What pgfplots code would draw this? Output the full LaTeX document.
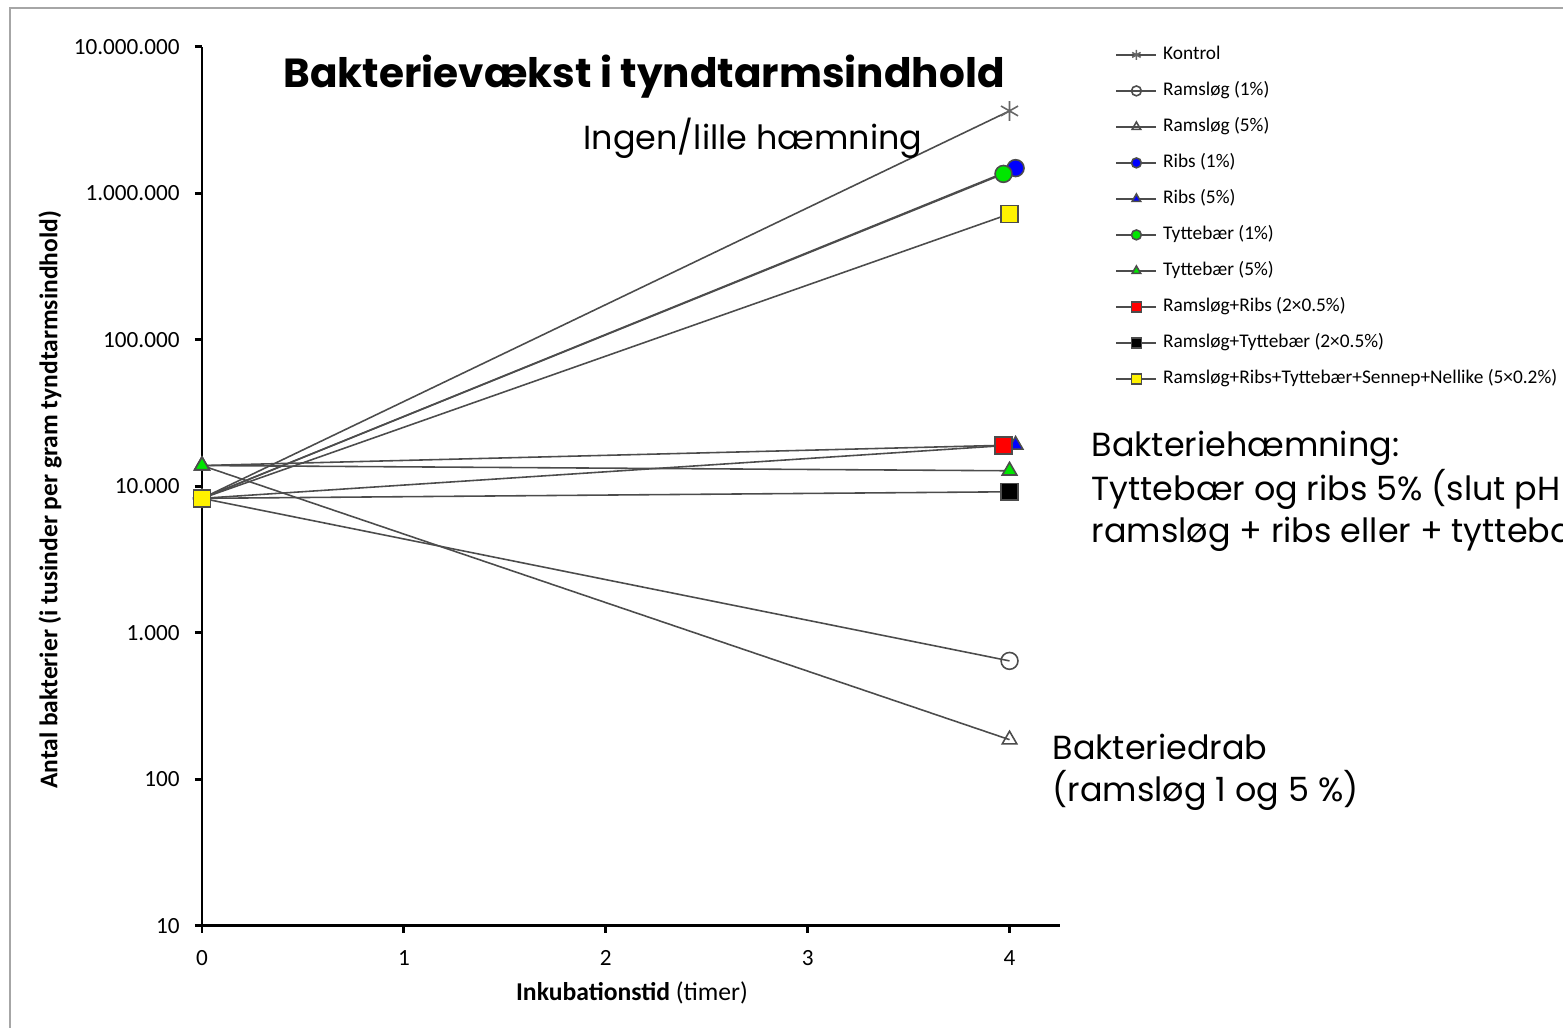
\documentclass[border=0pt]{standalone}
\usepackage{fontspec}
\setmainfont{Carlito}
\newfontfamily\gothic{Poppins}
\usepackage{pgfplots}
\pgfplotsset{compat=1.18}
\definecolor{tgreen}{RGB}{0,230,0}
\definecolor{lcol}{gray}{0.3}
\begin{document}
\begin{tikzpicture}
\begin{axis}[
  at={(0,0)}, anchor=south west,
  scale only axis, width=85.8mm, height=87.9mm,
  xmin=0, xmax=4.25, ymode=log, ymin=10, ymax=1e7,
  axis lines=left, axis line style={-, line width=0.85pt, black},
  xtick={0,1,2,3,4}, ytick={10,100,1000,10000,100000,1000000,10000000},
  yminorticks=false,
  tick align=outside, major tick length=0.7mm,
  tick style={line width=0.85pt, black},
  log ticks with fixed point,
  /pgf/number format/1000 sep={.},
  /pgf/number format/assume math mode=true,
  ticklabel style={font=\fontsize{6.6}{7}\selectfont},
  yticklabel style={xshift=-0.3mm},
  xticklabel style={yshift=-0.5mm},
  clip=false,
  every axis plot/.append style={line width=0.45pt, lcol, mark size=2.4pt, mark options={solid, draw=black!80, line width=0.35pt}},
  legend image code/.code={\draw[mark repeat=2,mark phase=2,#1] plot coordinates {(0mm,0mm) (2mm,0mm) (4mm,0mm)};},
  legend image post style={mark size=1.4pt},
  legend cell align=left,
  legend style={at={(1.064,1.010)}, anchor=north west, draw=none, fill=none, inner sep=0pt,
    font=\fontsize{5.5}{6}\selectfont, row sep=0.4mm,
    nodes={inner sep=0.6mm, text height=1.5mm, text depth=0.5mm}},
]
\addplot[mark=asterisk, mark size=2.8pt, mark options={draw=black!60}] coordinates {(0,8300) (4,3660000)};
\addlegendentry{Kontrol}
\addplot[mark=o, mark options={fill=white}] coordinates {(0,8300) (4,645)};
\addlegendentry{Ramsløg (1\%)}
\addplot[mark=triangle, mark options={fill=white}] coordinates {(0,13900) (4,187)};
\addlegendentry{Ramsløg (5\%)}
\addplot[mark=*, mark options={fill=blue}] coordinates {(0,8300) (4.03,1490000)};
\addlegendentry{Ribs (1\%)}
\addplot[mark=triangle*, mark options={fill=blue}] coordinates {(0,13900) (4.03,19200)};
\addlegendentry{Ribs (5\%)}
\addplot[mark=*, mark options={fill=tgreen}] coordinates {(0,8300) (3.97,1360000)};
\addlegendentry{Tyttebær (1\%)}
\addplot[mark=triangle*, mark options={fill=tgreen}] coordinates {(0,13900) (4,12800)};
\addlegendentry{Tyttebær (5\%)}
\addplot[mark=square*, mark options={fill=red}] coordinates {(0,8300) (3.97,19000)};
\addlegendentry{Ramsløg+Ribs (2×0.5\%)}
\addplot[mark=square*, mark options={fill=black}] coordinates {(0,8300) (4,9200)};
\addlegendentry{Ramsløg+Tyttebær (2×0.5\%)}
\addplot[mark=square*, mark options={fill=yellow}] coordinates {(0,8300) (4,725000)};
\addlegendentry{Ramsløg+Ribs+Tyttebær+Sennep+Nellike (5×0.2\%)}
\end{axis}
\node[anchor=base, inner sep=0, font=\gothic\bfseries\fontsize{11.55}{13}\selectfont] at (44.2mm,83.8mm) {Bakterievækst i tyndtarmsindhold};
\node[anchor=base west, inner sep=0, font=\gothic\fontsize{9.5}{11}\selectfont] at (38.1mm,77.6mm) {Ingen/lille hæmning};
\node[anchor=base west, inner sep=0, font=\gothic\fontsize{9.5}{11}\selectfont] at (88.9mm,46.9mm) {Bakteriehæmning:};
\node[anchor=base west, inner sep=0, font=\gothic\fontsize{9.5}{11}\selectfont] at (88.9mm,42.5mm) {Tyttebær og ribs 5\% (slut pH 4)};
\node[anchor=base west, inner sep=0, font=\gothic\fontsize{9.5}{11}\selectfont] at (88.9mm,38.3mm) {ramsløg + ribs eller + tyttebær};
\node[anchor=base west, inner sep=0, font=\gothic\fontsize{9.5}{11}\selectfont] at (85.0mm,16.6mm) {Bakteriedrab};
\node[anchor=base west, inner sep=0, font=\gothic\fontsize{9.5}{11}\selectfont] at (85.0mm,12.4mm) {(ramsløg 1 og 5 \%)};
\node[inner sep=0, font=\fontsize{7.3}{8}\selectfont] at (43.0mm,-6.7mm) {\textbf{Inkubationstid} (timer)};
\node[inner sep=0, rotate=90, font=\bfseries\fontsize{7.25}{8}\selectfont] at (-15.2mm,42.6mm) {Antal bakterier (i tusinder per gram tyndtarmsindhold)};
\draw[gray!70, line width=0.3pt] (-19.2mm,-12mm) -- (-19.2mm,91.8mm) -- (140mm,91.8mm);
\pgfresetboundingbox
\useasboundingbox (-20.2mm,-10.2mm) rectangle (136.1mm,92.6mm);
\end{tikzpicture}
\end{document}
